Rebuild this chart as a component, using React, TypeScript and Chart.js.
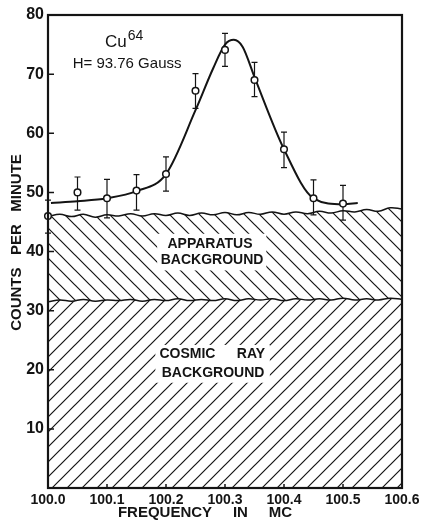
import React, { useEffect, useRef } from 'react';
import { Chart, registerables } from 'chart.js';

Chart.register(...registerables);

// ---- data ----
const pointFreq = [100.0, 100.05, 100.1, 100.15, 100.2, 100.25, 100.3, 100.35, 100.4, 100.45, 100.5];
const pointCounts = [46.0, 50.0, 49.0, 50.3, 53.1, 67.2, 74.1, 69.0, 57.3, 49.0, 48.1];
const errHigh = [48.7, 52.6, 52.2, 53.0, 56.0, 70.1, 76.9, 72.0, 60.2, 52.1, 51.2];
const errLow = [43.1, 47.0, 45.7, 47.0, 50.2, 64.2, 71.3, 66.2, 54.2, 46.2, 45.3];

const fitFreq = [100.005, 100.05, 100.1, 100.15, 100.2, 100.25, 100.28, 100.3, 100.315, 100.33, 100.35, 100.4, 100.45, 100.5, 100.525];
const fitCounts = [48.2, 48.5, 49.0, 50.2, 53.1, 63.9, 71.0, 75.0, 75.8, 74.6, 69.5, 57.3, 49.0, 48.0, 48.2];

const boundaryFreq = [
  100.0, 100.02, 100.04, 100.06, 100.08, 100.1, 100.12, 100.14, 100.16, 100.18,
  100.2, 100.22, 100.24, 100.26, 100.28, 100.3, 100.32, 100.34, 100.36, 100.38,
  100.4, 100.42, 100.44, 100.46, 100.48, 100.5, 100.52, 100.54, 100.56, 100.58, 100.6,
];
const apparatusTop = [
  45.9, 46.3, 45.9, 46.3, 45.8, 46.2, 46.0, 46.4, 46.0, 46.4,
  46.1, 46.5, 46.1, 46.5, 46.2, 46.6, 46.2, 46.6, 46.3, 46.7,
  46.3, 46.7, 46.4, 46.8, 46.5, 46.9, 46.7, 47.1, 46.8, 47.4, 47.2,
];
const cosmicTop = [
  31.5, 31.8, 31.6, 31.9, 31.6, 31.8, 31.7, 31.9, 31.6, 31.9,
  31.7, 32.0, 31.7, 31.9, 31.7, 32.0, 31.7, 32.0, 31.8, 32.0,
  31.7, 32.0, 31.8, 32.0, 31.8, 32.1, 31.8, 32.0, 31.8, 32.1, 31.9,
];

const xMin = 100.0;
const xMax = 100.6;
const xStep = 0.1;
const yMin = 0;
const yMax = 80;
const yStep = 10;

const INK = '#141414';
const FONT = '"Liberation Sans", Arial, sans-serif';

function makeHatch(ctx: CanvasRenderingContext2D, dir: 'fwd' | 'back') {
  const s = 15;
  const c = document.createElement('canvas');
  c.width = s;
  c.height = s;
  const g = c.getContext('2d')!;
  g.strokeStyle = INK;
  g.lineWidth = 1.2;
  g.beginPath();
  if (dir === 'fwd') {
    g.moveTo(-2, s + 2); g.lineTo(s + 2, -2);
    g.moveTo(-2, 2); g.lineTo(2, -2);
    g.moveTo(s - 2, s + 2); g.lineTo(s + 2, s - 2);
  } else {
    g.moveTo(-2, -2); g.lineTo(s + 2, s + 2);
    g.moveTo(s - 2, -2); g.lineTo(s + 2, 2);
    g.moveTo(-2, s - 2); g.lineTo(2, s + 2);
  }
  g.stroke();
  return ctx.createPattern(c, 'repeat');
}

const errorBarPlugin = {
  id: 'errorBars',
  beforeDatasetDraw(chart: any, args: any) {
    if (args.index !== 0) return;
    const { ctx } = chart;
    const xs = chart.scales.x;
    const ys = chart.scales.y;
    ctx.save();
    ctx.strokeStyle = INK;
    ctx.lineWidth = 1.2;
    pointFreq.forEach((f, i) => {
      const px = xs.getPixelForValue(f);
      const top = ys.getPixelForValue(errHigh[i]);
      const bot = ys.getPixelForValue(errLow[i]);
      ctx.beginPath();
      ctx.moveTo(px, top); ctx.lineTo(px, bot);
      ctx.moveTo(px - 3, top); ctx.lineTo(px + 3, top);
      ctx.moveTo(px - 3, bot); ctx.lineTo(px + 3, bot);
      ctx.stroke();
    });
    ctx.restore();
  },
};

const annotationPlugin = {
  id: 'annotations',
  afterDatasetsDraw(chart: any) {
    const { ctx } = chart;
    const xs = chart.scales.x;
    const ys = chart.scales.y;
    const X = (v: number) => xs.getPixelForValue(v);
    const Y = (v: number) => ys.getPixelForValue(v);
    ctx.save();
    // white clearings behind region labels
    ctx.fillStyle = '#fff';
    ctx.fillRect(X(100.185), Y(43.0), X(100.37) - X(100.185), Y(36.8) - Y(43.0));
    ctx.fillRect(X(100.182), Y(24.2), X(100.376) - X(100.182), Y(17.8) - Y(24.2));

    ctx.fillStyle = INK;
    ctx.textAlign = 'center';
    ctx.textBaseline = 'middle';
    ctx.font = `bold 14px ${FONT}`;
    ctx.fillText('APPARATUS', X(100.2746), Y(41.27));
    ctx.fillText('BACKGROUND', X(100.278), Y(38.56));
    ctx.fillText('COSMIC', X(100.2364), Y(22.66));
    ctx.fillText('RAY', X(100.344), Y(22.66));
    ctx.fillText('BACKGROUND', X(100.2797), Y(19.45));

    // Cu64 label
    ctx.textAlign = 'left';
    ctx.textBaseline = 'alphabetic';
    ctx.font = `17px ${FONT}`;
    const cx = X(100.0966);
    const cy = Y(74.59);
    ctx.fillText('Cu', cx, cy);
    const w = ctx.measureText('Cu').width;
    ctx.font = `14px ${FONT}`;
    ctx.fillText('64', cx + w + 1, cy - 7);
    ctx.textAlign = 'center';
    ctx.textBaseline = 'middle';
    ctx.font = `15px ${FONT}`;
    ctx.fillText('H= 93.76 Gauss', X(100.134), Y(71.71));
    ctx.restore();
  },
  afterDraw(chart: any) {
    const { ctx, chartArea: a } = chart;
    const xs = chart.scales.x;
    const ys = chart.scales.y;
    ctx.save();
    ctx.strokeStyle = INK;
    // inward ticks
    ctx.lineWidth = 1.5;
    ctx.beginPath();
    ys.ticks.forEach((t: any) => {
      if (t.value <= yMin || t.value >= yMax) return;
      const py = ys.getPixelForValue(t.value);
      ctx.moveTo(a.left, py); ctx.lineTo(a.left + 6, py);
    });
    xs.ticks.forEach((t: any) => {
      if (t.value <= xMin + 1e-6 || t.value >= xMax - 1e-6) return;
      const px = xs.getPixelForValue(t.value);
      ctx.moveTo(px, a.bottom); ctx.lineTo(px, a.bottom - 4);
    });
    ctx.stroke();
    // frame
    ctx.lineWidth = 2.2;
    ctx.strokeRect(a.left, a.top, a.right - a.left, a.bottom - a.top);
    // axis titles
    ctx.fillStyle = INK;
    ctx.font = `bold 15px ${FONT}`;
    ctx.textAlign = 'center';
    ctx.textBaseline = 'middle';
    ctx.fillText('FREQUENCY     IN     MC', (a.left + a.right) / 2 - 20, 513);
    ctx.translate(17, (a.top + a.bottom) / 2 - 9);
    ctx.rotate(-Math.PI / 2);
    ctx.fillText('COUNTS   PER   MINUTE', 0, 0);
    ctx.restore();
  },
};

export default function App() {
  const ref = useRef<HTMLCanvasElement | null>(null);
  useEffect(() => {
    document.body.style.margin = '0';
    const canvas = ref.current!;
    const ctx = canvas.getContext('2d')!;
    const hatchFwd = makeHatch(ctx, 'fwd');
    const hatchBack = makeHatch(ctx, 'back');
    const chart = new Chart(canvas, {
      type: 'line',
      data: {
        datasets: [
          {
            label: 'measured',
            data: pointFreq.map((x, i) => ({ x, y: pointCounts[i] })),
            showLine: false,
            pointRadius: 3.3,
            pointBackgroundColor: '#fff',
            pointBorderColor: INK,
            pointBorderWidth: 1.5,
            clip: false,
            order: 0,
          },
          {
            label: 'fit',
            data: fitFreq.map((x, i) => ({ x, y: fitCounts[i] })),
            borderColor: INK,
            borderWidth: 2,
            pointRadius: 0,
            cubicInterpolationMode: 'monotone',
            fill: false,
            order: 1,
          },
          {
            label: 'apparatus',
            data: boundaryFreq.map((x, i) => ({ x, y: apparatusTop[i] })),
            borderColor: INK,
            borderWidth: 1.5,
            pointRadius: 0,
            tension: 0.4,
            fill: 3,
            backgroundColor: hatchBack as any,
            order: 2,
          },
          {
            label: 'cosmic',
            data: boundaryFreq.map((x, i) => ({ x, y: cosmicTop[i] })),
            borderColor: INK,
            borderWidth: 1.5,
            pointRadius: 0,
            tension: 0.4,
            fill: 'origin',
            backgroundColor: hatchFwd as any,
            order: 3,
          },
        ],
      },
      options: {
        responsive: false,
        animation: false,
        devicePixelRatio: 1,
        layout: { padding: { top: 15, right: 26, left: 0, bottom: 0 } },
        plugins: { legend: { display: false }, tooltip: { enabled: false } },
        scales: {
          x: {
            type: 'linear',
            min: xMin,
            max: xMax,
            grid: { display: false, drawTicks: false },
            border: { display: false },
            ticks: {
              stepSize: xStep,
              color: INK,
              padding: 4,
              maxRotation: 0,
              autoSkip: false,
              font: { family: FONT, size: 14, weight: 'bold' },
              callback: (v: any) => Number(v).toFixed(1),
            },
            afterFit: (s: any) => { s.height = 32; },
          },
          y: {
            type: 'linear',
            min: yMin,
            max: yMax,
            grid: { display: false, drawTicks: false },
            border: { display: false },
            ticks: {
              stepSize: yStep,
              color: INK,
              padding: 4,
              font: { family: FONT, size: 16, weight: 'bold' },
              callback: (v: any) => (Number(v) === 0 ? '' : String(v)),
            },
            afterFit: (s: any) => { s.width = 48; },
          },
        },
      },
      plugins: [errorBarPlugin, annotationPlugin],
    } as any);
    return () => chart.destroy();
  }, []);
  return <canvas ref={ref} width={428} height={520} style={{ display: 'block' }} />;
}
